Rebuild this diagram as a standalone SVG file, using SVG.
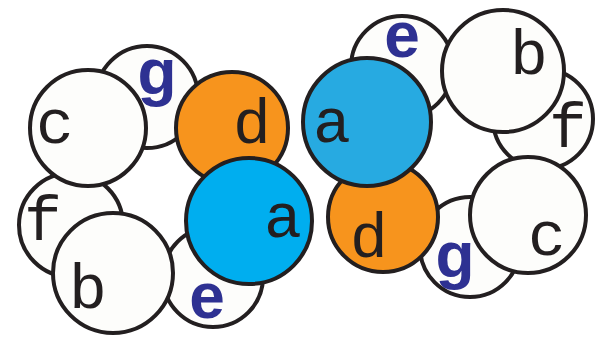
<svg xmlns="http://www.w3.org/2000/svg" width="596" height="337" viewBox="0 0 596 337">
<style>
.n{stroke:#231f20;stroke-width:4;fill:#fdfdfb}
.o{fill:#f7941d}
.b1{fill:#00aeef}
.b2{fill:#27aae1}
.m{font-family:"Courier New","Liberation Mono","DejaVu Sans Mono",monospace;font-size:63px;fill:#231f20;text-anchor:middle}
.s{font-family:"Liberation Sans",Arial,sans-serif;font-weight:bold;font-size:64px;fill:#2e3192;text-anchor:middle}
</style>
<rect width="596" height="337" fill="#ffffff"/>
<g id="connectors"/>
<g id="left">
<g id="L-g"><circle class="n" cx="147" cy="97" r="51"/></g>
<g id="L-e"><circle class="n" cx="213" cy="277" r="50"/></g>
<g id="L-f"><circle class="n" cx="71" cy="225" r="52"/></g>
<g id="L-c"><circle class="n" cx="88" cy="128" r="58"/><text class="m" x="55" y="143">c</text></g>
<g id="L-b"><circle class="n" cx="113" cy="273" r="60"/><text class="m" x="88" y="308">b</text></g>
<g id="L-d"><circle class="n o" cx="232" cy="128" r="56"/><text class="m" x="252" y="143">d</text></g>
<g id="L-a"><circle class="n b1" cx="249" cy="221" r="63"/><text class="m" x="283" y="237">a</text></g>
<text class="s" x="157" y="94">g</text>
<text class="s" x="207" y="318">e</text>
<text class="m" x="43" y="240">f</text>
</g>
<g id="right">
<g id="R-e"><circle class="n" cx="402" cy="67" r="51"/><text class="s" x="402" y="57">e</text></g>
<g id="R-f"><circle class="n" cx="543" cy="119" r="50"/></g>
<g id="R-g"><circle class="n" cx="470" cy="247" r="50"/></g>
<g id="R-b"><circle class="n" cx="503" cy="71" r="61"/><text class="m" x="529" y="74">b</text></g>
<g id="R-d"><circle class="n o" cx="383" cy="217" r="55"/><text class="m" x="369" y="257">d</text></g>
<g id="R-a"><circle class="n b2" cx="367" cy="122" r="64"/><text class="m" x="332" y="142">a</text></g>
<g id="R-c"><circle class="n" cx="528" cy="215" r="58"/><text class="m" x="547" y="255">c</text></g>
<text class="m" x="568" y="147">f</text>
<text class="s" x="455" y="277">g</text>
</g>
</svg>
